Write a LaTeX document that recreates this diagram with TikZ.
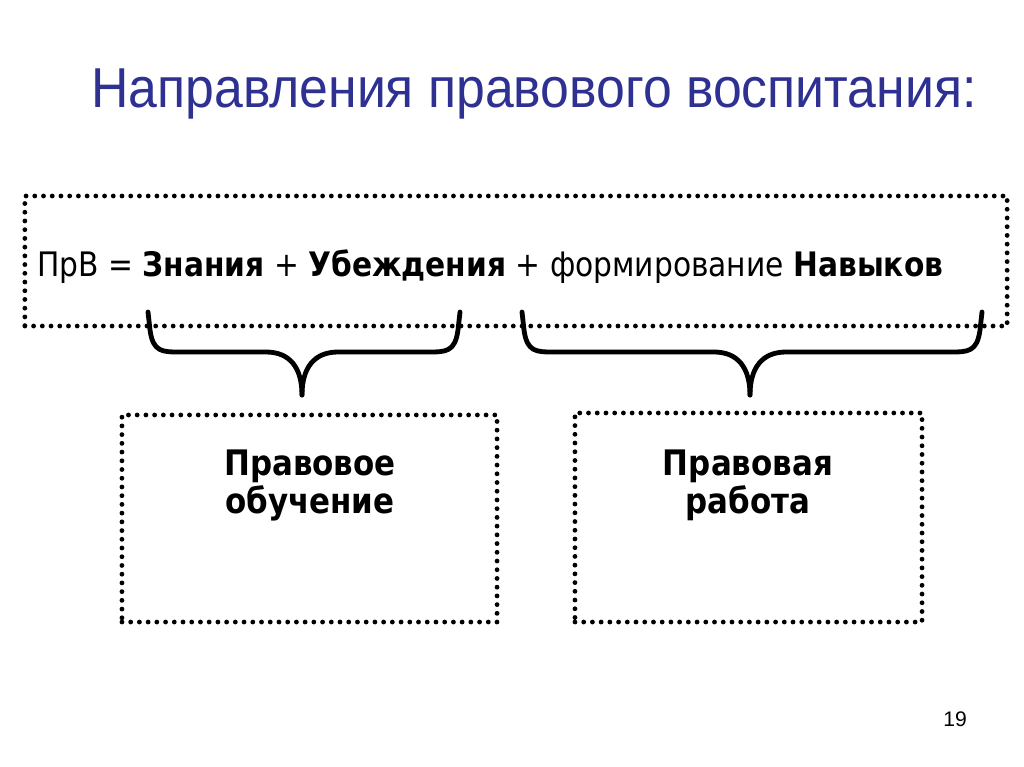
\documentclass[tikz,border=0pt]{standalone}
\usepackage{fontspec}
\setmainfont{DejaVu Sans}[FakeStretch=0.88]
\newfontfamily\titlefont{Liberation Sans}[FakeStretch=0.92]
\newfontfamily\numfont{Liberation Sans}
\usepackage{tikz}
\usetikzlibrary{positioning, calc}

\definecolor{titleblue}{RGB}{46,49,146}

\tikzset{
	dotbox/.style={draw, line width=0.12cm, line cap=round, dash pattern=on 0pt off 0.218cm, inner sep=0pt},
	bracestroke/.style={line width=0.12cm, line cap=round, line join=round},
	boxlabel/.style={font=\fontsize{25}{26.5}\selectfont\bfseries, align=center, anchor=base}
}

\begin{document}
\begin{tikzpicture}[x=0.025cm, y=-0.025cm]
			\useasboundingbox (0,0) rectangle (1024,767);

			% title
			\node [anchor=base, text=titleblue, font=\titlefont\fontsize{40}{44}\selectfont, inner sep=0pt] (title) at (534,108) {Направления правового воспитания:};

			% formula box
			\node [dotbox, minimum width=24.55cm, minimum height=3.25cm] (prvbox) at (516,261) {};
			\node [anchor=base west, inner sep=0pt, font=\fontsize{24}{28}\selectfont] (formula) at (37,277)
				{ПрВ = \textbf{Знания} + \textbf{Убеждения} + формирование \textbf{Навыков}};

			% braces
			\foreach \a/\m/\b/\nm in {148/302/460/lt, 522/750/982/rt}
			{
				\coordinate (tip\nm) at (\m,395);
				\draw [bracestroke] (\a,312) -- (\a+2,330) .. controls (\a+5,352) and (\a+14,352) .. (\a+32,352)
					-- (\m-36,352) .. controls (\m-12,352) and (\m,368) .. (tip\nm);
				\draw [bracestroke] (\b,312) -- (\b-2,330) .. controls (\b-5,352) and (\b-14,352) .. (\b-32,352)
					-- (\m+36,352) .. controls (\m+12,352) and (\m,368) .. (tip\nm);
			}

			% result boxes
			\node [dotbox, minimum width=9.375cm, minimum height=5.175cm] (obuch) at (309.5,518.5) {};
			\node [dotbox, minimum width=8.675cm, minimum height=5.225cm] (rabota) at (748.5,517.5) {};

			\node [boxlabel] (obuchtext) at (310,513) {Правовое\\обучение};
			\node [boxlabel] (rabotatext) at (748,513) {Правовая\\работа};

			% page number
			\node [anchor=base, inner sep=0pt, font=\numfont\fontsize{15}{17}\selectfont] (pagenum) at (955,726) {19};
\end{tikzpicture}
\end{document}
